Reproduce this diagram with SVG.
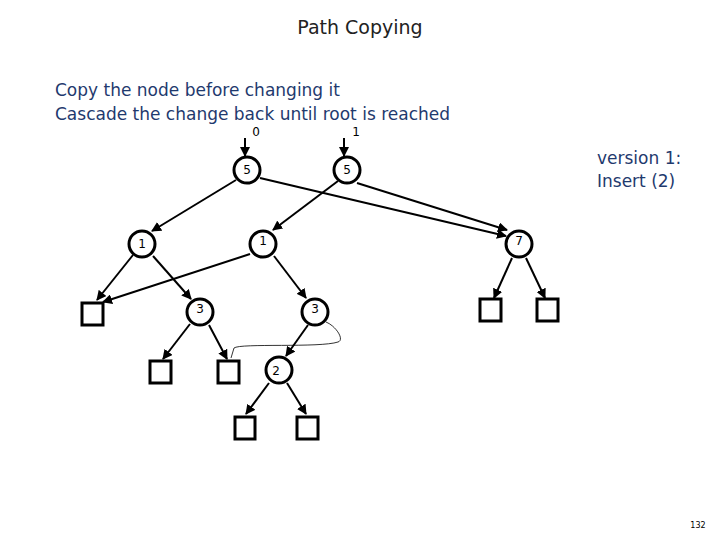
<svg xmlns="http://www.w3.org/2000/svg" width="720" height="540" viewBox="0 0 720 540">
<defs><marker id="a" viewBox="0 0 10 10" refX="9" refY="5" markerWidth="5" markerHeight="5" orient="auto"><path d="M0,0L10,5L0,10z" fill="#000"/></marker></defs>
<style>
.n circle{fill:#fff;stroke:#000;stroke-width:3}
.n rect{fill:#fff;stroke:#000;stroke-width:3}
.n text{font-family:"DejaVu Sans",sans-serif;font-size:12px;text-anchor:middle}
.c line{stroke:#000;stroke-width:2;marker-end:url(#a)}
.t{font-family:"DejaVu Sans",sans-serif;fill:#1f3a6e}
</style>
<rect width="720" height="540" fill="#fff"/>
<text x="360" y="34" text-anchor="middle" font-family="DejaVu Sans,sans-serif" font-size="19" fill="#222">Path Copying</text>
<text class="t" x="55" y="96" font-size="17">Copy the node before changing it</text>
<text class="t" x="55" y="120" font-size="17">Cascade the change back until root is reached</text>
<text class="t" x="597" y="164" font-size="17">version 1:</text>
<text class="t" x="597" y="187" font-size="17">Insert (2)</text>
<text x="256" y="136" font-family="DejaVu Sans,sans-serif" font-size="12" text-anchor="middle">0</text>
<text x="356" y="136" font-family="DejaVu Sans,sans-serif" font-size="12" text-anchor="middle">1</text>
<text x="698" y="528" font-family="DejaVu Sans,sans-serif" font-size="8" text-anchor="middle">132</text>
<g class="c">
<line x1="245" y1="138" x2="245" y2="156"/>
<line x1="344" y1="138" x2="344" y2="156"/>
<line x1="236" y1="180" x2="152" y2="231"/>
<line x1="260" y1="178" x2="506" y2="236"/>
<line x1="338" y1="181" x2="273" y2="230"/>
<line x1="357" y1="183" x2="507" y2="230"/>
<line x1="133" y1="255" x2="97" y2="300"/>
<line x1="153" y1="256" x2="191" y2="299"/>
<line x1="250" y1="254" x2="103" y2="302"/>
<line x1="274" y1="256" x2="306" y2="298"/>
<line x1="512" y1="258" x2="494" y2="298"/>
<line x1="526" y1="258" x2="545" y2="298"/>
<line x1="190" y1="324" x2="163" y2="359"/>
<line x1="209" y1="325" x2="227" y2="359"/>
<line x1="308" y1="325" x2="286" y2="356"/>
<line x1="269" y1="383" x2="246" y2="414"/>
<line x1="287" y1="383" x2="306" y2="414"/>
</g>
<path d="M326,322 C336,326 345,340 338,342 C320,348 240,343 234,348 L231,358" fill="none" stroke="#000" stroke-width="0.8"/>
<g class="n" id="n5a"><circle cx="247" cy="170" r="13"/><text x="247" y="174">5</text></g>
<g class="n" id="n5b"><circle cx="347" cy="170" r="13"/><text x="347" y="174">5</text></g>
<g class="n" id="n1a"><circle cx="142" cy="244" r="13"/><text x="142" y="248">1</text></g>
<g class="n" id="n1b"><circle cx="263" cy="244" r="13"/><text x="263" y="245">1</text></g>
<g class="n" id="n7"><circle cx="519" cy="244" r="13"/><text x="519" y="245">7</text></g>
<g class="n" id="n3a"><circle cx="200" cy="312" r="13"/><text x="200" y="313">3</text></g>
<g class="n" id="n3b"><circle cx="315" cy="312" r="13"/><text x="315" y="313">3</text></g>
<g class="n" id="n2"><circle cx="279" cy="370" r="13"/><text x="276" y="375">2</text></g>
<g class="n" id="s1"><rect x="82" y="303" width="21" height="22"/></g>
<g class="n" id="s2"><rect x="150" y="361" width="21" height="22"/></g>
<g class="n" id="s3"><rect x="218" y="361" width="21" height="22"/></g>
<g class="n" id="s4"><rect x="235" y="417" width="20" height="22"/></g>
<g class="n" id="s5"><rect x="297" y="417" width="21" height="22"/></g>
<g class="n" id="s6"><rect x="480" y="299" width="21" height="22"/></g>
<g class="n" id="s7"><rect x="537" y="299" width="21" height="22"/></g>
</svg>
